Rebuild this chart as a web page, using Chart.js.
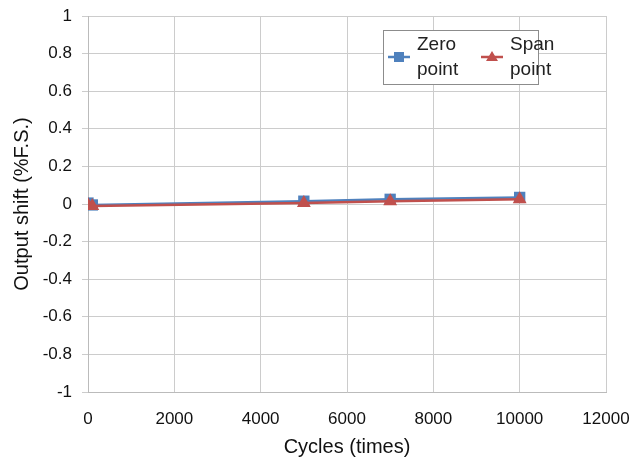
<!DOCTYPE html>
<html>
<head>
<meta charset="utf-8">
<script src="https://cdn.jsdelivr.net/npm/chart.js@4/dist/chart.umd.min.js"></script>
<style>
  html, body { margin: 0; padding: 0; background: #fff; }
  #wrap { width: 635px; height: 464px; }
</style>
</head>
<body>
<div id="wrap"><canvas id="shiftChart"></canvas></div>
<script>
// cycle counts and measured output shift
const cycles = [0, 100, 5000, 7000, 10000];
const zeroShift = [0.005, -0.005, 0.015, 0.025, 0.035];
const spanShift = [-0.005, -0.01, 0.005, 0.015, 0.025];
const seriesNames = [["Zero", "point"], ["Span", "point"]];

const BLUE = "#4f81bd";
const RED = "#c0504d";
const FONT = "'Liberation Sans', Arial, sans-serif";

function toPoints(xs, ys) {
    return xs.map((x, i) => ({ x: x, y: ys[i] }));
}

// legend drawn as a framed box inside the plot, like the original
const boxLegend = {
    id: "boxLegend",
    afterDraw(chart) {
        const ctx = chart.ctx;
        const bx = 383, by = 30, bw = 155, bh = 54;
        ctx.save();
        ctx.fillStyle = "#fff";
        ctx.fillRect(bx, by, bw, bh);
        ctx.strokeStyle = "#8c8c8c";
        ctx.lineWidth = 1;
        ctx.strokeRect(bx + 0.5, by + 0.5, bw, bh);

        const items = [
            { x: 388, color: BLUE, shape: "rect", text: seriesNames[0] },
            { x: 481, color: RED, shape: "tri", text: seriesNames[1] },
        ];
        const my = by + 27;
        items.forEach((it) => {
            ctx.strokeStyle = it.color;
            ctx.lineWidth = 2.5;
            ctx.beginPath();
            ctx.moveTo(it.x, my);
            ctx.lineTo(it.x + 22, my);
            ctx.stroke();
            ctx.fillStyle = it.color;
            const cx = it.x + 11;
            if (it.shape === "rect") {
                ctx.fillRect(cx - 5, my - 5, 10, 10);
            } else {
                ctx.beginPath();
                ctx.moveTo(cx, my - 6);
                ctx.lineTo(cx + 6, my + 4);
                ctx.lineTo(cx - 6, my + 4);
                ctx.closePath();
                ctx.fill();
            }
            ctx.fillStyle = "#222";
            ctx.font = "19px " + FONT;
            ctx.textAlign = "left";
            ctx.textBaseline = "middle";
            ctx.fillText(it.text[0], it.x + 29, by + 15);
            ctx.fillText(it.text[1], it.x + 29, by + 40);
        });
        ctx.restore();
    },
};

const ctx = document.getElementById("shiftChart").getContext("2d");

new Chart(ctx, {
    type: "scatter",
    data: {
        datasets: [
            {
                label: "Zero point",
                data: toPoints(cycles, zeroShift),
                showLine: true,
                borderColor: BLUE,
                backgroundColor: BLUE,
                borderWidth: 2.5,
                pointStyle: "rect",
                pointRadius: 8,
                pointBorderWidth: 0,
                order: 2,
            },
            {
                label: "Span point",
                data: toPoints(cycles, spanShift),
                showLine: true,
                borderColor: RED,
                backgroundColor: RED,
                borderWidth: 2.5,
                pointStyle: "triangle",
                pointRadius: 8,
                pointBorderWidth: 0,
                order: 1,
            },
        ],
    },
    options: {
        responsive: true,
        maintainAspectRatio: false,
        animation: false,
        layout: { padding: 0 },
        scales: {
            x: {
                type: "linear",
                min: 0,
                max: 12000,
                ticks: {
                    stepSize: 2000,
                    color: "#111",
                    font: { family: FONT, size: 17 },
                    padding: 17,
                    maxRotation: 0,
                    callback: (v) => String(v),
                },
                grid: { color: "#cccccc", lineWidth: 1, drawTicks: false },
                border: { color: "#bbbbbb" },
                title: {
                    display: true,
                    text: "Cycles (times)",
                    color: "#111",
                    font: { family: FONT, size: 20 },
                    padding: { top: 4, bottom: 5 },
                },
                afterFit: (s) => {
                    s.height = 72;
                    s.paddingLeft = 0;
                    s.paddingRight = 29;
                },
            },
            y: {
                min: -1,
                max: 1,
                ticks: {
                    stepSize: 0.2,
                    color: "#111",
                    font: { family: FONT, size: 17 },
                    padding: 10,
                    callback: (v) => Math.round(v * 10) / 10,
                },
                grid: { color: "#cccccc", lineWidth: 1, tickLength: 6 },
                border: { color: "#bbbbbb" },
                title: {
                    display: true,
                    text: "Output shift (%F.S.)",
                    color: "#111",
                    font: { family: FONT, size: 20 },
                    padding: { top: 10, bottom: 2 },
                },
                afterFit: (s) => {
                    s.width = 88;
                    s.paddingTop = 16;
                    s.paddingBottom = 0;
                },
            },
        },
        plugins: {
            legend: { display: false },
            tooltip: { enabled: false },
        },
    },
    plugins: [boxLegend],
});
</script>
</body>
</html>
